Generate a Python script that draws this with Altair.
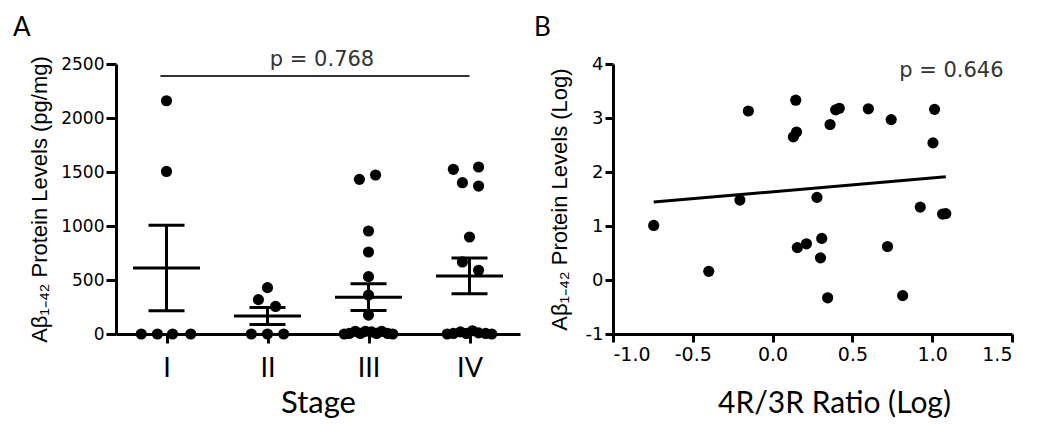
import altair as alt
import pandas as pd

# ---------------- Panel A data (Aβ1-42 by Braak stage) ----------------
stage_labels = ["I", "II", "III", "IV"]
stage_I = [2160, 1505, 0, 0, 0, 0]
swarm_I = [0.0, 0.0, -0.25, -0.09, 0.06, 0.24]
stage_II = [429, 318, 255, 0, 0, 0]
swarm_II = [0.0, -0.09, 0.08, -0.16, 0.0, 0.16]
stage_III = [1472, 1432, 954, 759, 531, 360, 175, 0, 5, 25, 5, 25, 20, 5, 25, 5, 0]
swarm_III = [0.07, -0.09, 0.0, 0.0, 0.0, 0.0, 0.0,
             -0.24, -0.19, -0.13, -0.08, -0.03, 0.03, 0.08, 0.13, 0.19, 0.24]
stage_IV = [1546, 1525, 1401, 1370, 898, 667, 590, 0, 5, 20, 5, 30, 10, 5, 0]
swarm_IV = [0.09, -0.16, -0.07, 0.09, 0.0, -0.07, 0.09,
            -0.22, -0.16, -0.09, -0.03, 0.03, 0.09, 0.16, 0.22]

p_text_A = "p = 0.768"
p_line_A = {"x1": 0.94, "x2": 4.0, "y": 2390}
p_pos_A = {"x": 2.54, "y": 2480}

# ---------------- Panel B data (log ratio vs log Aβ) ----------------
ratio_log = [-0.745, -0.40, -0.205, -0.152, 0.145, 0.150, 0.130, 0.155, 0.212,
             0.278, 0.308, 0.300, 0.345, 0.360, 0.395, 0.418, 0.600, 0.743,
             0.720, 0.815, 0.925, 1.015, 1.005, 1.065, 1.085]
abeta_log = [1.01, 0.16, 1.48, 3.13, 3.33, 2.74, 2.65, 0.60, 0.67, 1.53, 0.77,
             0.41, -0.33, 2.88, 3.15, 3.18, 3.17, 2.97, 0.62, -0.29, 1.35,
             3.16, 2.54, 1.22, 1.23]
p_text_B = "p = 0.646"
p_pos_B = {"x": 1.12, "y": 3.76}

NUM = "DejaVu Sans"
ARIAL = "Liberation Sans"
MYRIAD = "Lato"

rowsA = []
for i, (vals, sw) in enumerate([(stage_I, swarm_I), (stage_II, swarm_II),
                                (stage_III, swarm_III), (stage_IV, swarm_IV)]):
    for v, s in zip(vals, sw):
        rowsA.append({"pos": i + 1, "stage": stage_labels[i], "value": v, "swarm": s})
dfA = pd.DataFrame(rowsA)

xA = alt.X("xpos:Q",
           scale=alt.Scale(domain=[0.5, 4.5], nice=False, zero=False),
           axis=alt.Axis(values=[1, 2, 3, 4],
                         labelExpr="['', 'I', 'II', 'III', 'IV'][datum.value]",
                         title="Stage", titleFont=MYRIAD, titleFontSize=31,
                         titleFontWeight="normal", titleColor="black", titlePadding=7,
                         labelFont=MYRIAD, labelFontSize=27, labelColor="black",
                         labelPadding=12, tickSize=9, tickWidth=3, tickColor="black",
                         domainColor="black", domainWidth=3, grid=False))
yA = alt.Y("value:Q",
           scale=alt.Scale(domain=[0, 2500], nice=False),
           axis=alt.Axis(values=[0, 500, 1000, 1500, 2000, 2500], format="d",
                         title="Aβ₁₋₄₂ Protein Levels (pg/mg)",
                         titleFont=ARIAL, titleFontSize=22, titleFontWeight="normal",
                         titleColor="black", titlePadding=9,
                         labelFont=NUM, labelFontSize=17, labelColor="black",
                         labelPadding=2, tickSize=10, tickWidth=3, tickColor="black",
                         domainColor="black", domainWidth=3, grid=False))

baseA = alt.Chart(dfA).transform_calculate(xpos="datum.pos + datum.swarm")
pointsA = baseA.mark_circle(size=125, color="black", opacity=1, clip=False).encode(x=xA, y=yA)

aggA = (alt.Chart(dfA)
        .transform_aggregate(mean="mean(value)", sem="stderr(value)", groupby=["pos"])
        .transform_calculate(xpos="datum.pos", lo="datum.mean - datum.sem",
                             hi="datum.mean + datum.sem"))
meanA = aggA.mark_tick(orient="horizontal", size=67, thickness=3, color="black",
                       opacity=1).encode(x=alt.X("xpos:Q"), y=alt.Y("mean:Q"))
errA = aggA.mark_rule(strokeWidth=3, color="black", opacity=1).encode(
    x=alt.X("xpos:Q"), y=alt.Y("lo:Q"), y2="hi:Q")
capLoA = aggA.mark_tick(orient="horizontal", size=36, thickness=3, color="black",
                        opacity=1).encode(x=alt.X("xpos:Q"), y=alt.Y("lo:Q"))
capHiA = aggA.mark_tick(orient="horizontal", size=36, thickness=3, color="black",
                        opacity=1).encode(x=alt.X("xpos:Q"), y=alt.Y("hi:Q"))

plineA = alt.Chart(pd.DataFrame([p_line_A])).mark_rule(color="#333333", strokeWidth=2).encode(
    x=alt.X("x1:Q"), x2="x2:Q", y=alt.Y("y:Q"))
ptextA = alt.Chart(pd.DataFrame([p_pos_A])).mark_text(
    text=p_text_A, font=NUM, fontSize=21, align="center", baseline="alphabetic",
    color="#333333").encode(x=alt.X("x:Q"), y=alt.Y("y:Q"))
labelA = alt.Chart(pd.DataFrame([p_pos_A])).mark_text(
    text="A", font=MYRIAD, fontSize=26, align="left", baseline="top", color="black"
).encode(x=alt.value(-103), y=alt.value(-49))

panelA = alt.layer(pointsA, errA, meanA, capLoA, capHiA, plineA, ptextA, labelA).properties(
    width=404, height=270)

# ---------------- Panel B ----------------
dfB = pd.DataFrame({"ratio": ratio_log, "abeta": abeta_log})
xB = alt.X("ratio:Q",
           scale=alt.Scale(domain=[-1, 1.5], nice=False, zero=False),
           axis=alt.Axis(values=[-1, -0.5, 0, 0.5, 1, 1.5],
                         labelExpr="(datum.value < 0 ? '-' : '') + format(abs(datum.value), '.1f')",
                         title="4R/3R Ratio (Log)", titleFont=MYRIAD, titleFontSize=30,
                         titleFontWeight="normal", titleColor="black", titlePadding=24,
                         titleX=221,
                         labelFont=NUM, labelFontSize=19, labelColor="black",
                         labelPadding=3, tickSize=8, tickWidth=3, tickColor="black",
                         domainColor="black", domainWidth=3, grid=False))
yB = alt.Y("abeta:Q",
           scale=alt.Scale(domain=[-1, 4], nice=False, zero=False),
           axis=alt.Axis(values=[-1, 0, 1, 2, 3, 4],
                         labelExpr="(datum.value < 0 ? '-' : '') + format(abs(datum.value), 'd')",
                         title="Aβ₁₋₄₂ Protein Levels (Log)",
                         titleFont=ARIAL, titleFontSize=22, titleFontWeight="normal",
                         titleColor="black", titlePadding=14,
                         labelFont=NUM, labelFontSize=18, labelColor="black",
                         labelPadding=2, tickSize=8, tickWidth=3, tickColor="black",
                         domainColor="black", domainWidth=3, grid=False))

pointsB = alt.Chart(dfB).mark_circle(size=125, color="black", opacity=1, clip=False).encode(
    x=xB, y=yB)
regB = alt.Chart(dfB).transform_regression("ratio", "abeta").mark_line(
    color="black", strokeWidth=3).encode(x=alt.X("ratio:Q"), y=alt.Y("abeta:Q"))
ptextB = alt.Chart(pd.DataFrame([p_pos_B])).mark_text(
    text=p_text_B, font=NUM, fontSize=21, align="center", baseline="alphabetic",
    color="#333333").encode(x=alt.X("x:Q"), y=alt.Y("y:Q"))
labelB = alt.Chart(pd.DataFrame([p_pos_B])).mark_text(
    text="B", font=MYRIAD, fontSize=26, align="left", baseline="top", color="black"
).encode(x=alt.value(-79), y=alt.value(-49))

panelB = alt.layer(pointsB, regB, ptextB, labelB).properties(width=399, height=270)

chart = (alt.hconcat(panelA, panelB, spacing=14)
         .properties(padding={"left": 5, "top": 7, "right": 5, "bottom": 5}, background="white")
         .configure_view(stroke=None))

chart.save("out.html", embed_options={"renderer": "svg", "actions": False})
